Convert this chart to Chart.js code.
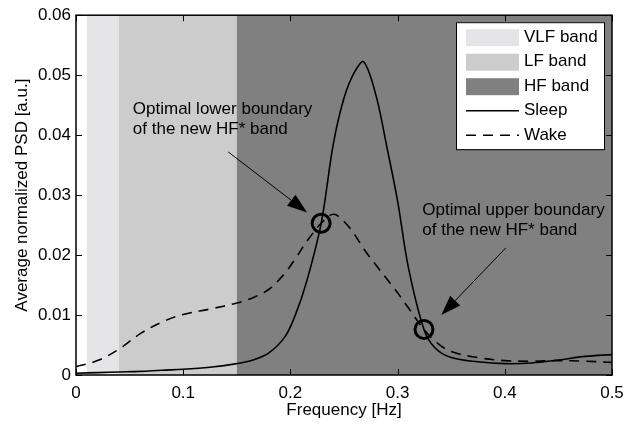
<!DOCTYPE html>
<html>
<head>
<meta charset="utf-8">
<script src="https://cdn.jsdelivr.net/npm/chart.js@4.4.0/dist/chart.umd.min.js"></script>
<style>
  body { margin: 0; background: #fff; }
</style>
</head>
<body>
<canvas id="psdChart" width="637" height="427"></canvas>
<script>
// Datos
const freqs = [0, 0.02, 0.04, 0.06, 0.08, 0.1, 0.125, 0.15, 0.165, 0.18, 0.195, 0.205, 0.215, 0.2287,
  0.24, 0.25, 0.26, 0.2685, 0.28, 0.29, 0.3, 0.31, 0.3246, 0.335, 0.35, 0.375, 0.4, 0.425, 0.45, 0.475, 0.5];
const sleepPsd = [0.0003, 0.0004, 0.0005, 0.0006, 0.0008, 0.00095, 0.0013, 0.0019, 0.0025, 0.0037, 0.0064, 0.0102, 0.0155, 0.0253,
  0.0385, 0.0462, 0.0506, 0.0522, 0.0465, 0.038, 0.029, 0.018, 0.0076, 0.0045, 0.0029, 0.0022, 0.0019, 0.0020, 0.0025, 0.0031, 0.0034];
const wakePsd = [0.0014, 0.0024, 0.0043, 0.0069, 0.0088, 0.0101, 0.011, 0.012, 0.0129, 0.0143, 0.017, 0.0195, 0.0222, 0.0253,
  0.0268, 0.0256, 0.0234, 0.021, 0.0183, 0.016, 0.0137, 0.0112, 0.0076, 0.0056, 0.0039, 0.0029, 0.0024, 0.0023, 0.0024, 0.0023, 0.0021];

const bandNames = ['VLF band', 'LF band', 'HF band'];
const bandStart = [0.01, 0.04, 0.15];
const bandEnd = [0.04, 0.15, 0.5];

const boundaryFreqs = [0.2287, 0.3246];
const boundaryPsd = [0.0253, 0.0076];

const xTickLabels = ['0', '0.1', '0.2', '0.3', '0.4', '0.5'];
const yTickLabels = ['0', '0.01', '0.02', '0.03', '0.04', '0.05', '0.06'];

const FONT = "'Liberation Sans', Arial, sans-serif";
const bandColors = ['#e5e5e7', '#cccccc', '#808080'];

// Anotaciones (en coordenadas de datos)
const notes = [
  { lines: ['Optimal lower boundary', 'of the new HF* band'], text: [0.053, 0.0435], from: [0.142, 0.0372], to: [0.2156, 0.0271] },
  { lines: ['Optimal upper boundary', 'of the new HF* band'], text: [0.323, 0.0266], from: [0.401, 0.0212], to: [0.3408, 0.0100] }
];

const bandsPlugin = {
  id: 'bands',
  beforeDatasetsDraw(chart) {
    const { ctx, chartArea, scales: { x } } = chart;
    ctx.save();
    bandNames.forEach((name, i) => {
      const x0 = x.getPixelForValue(bandStart[i]);
      const x1 = x.getPixelForValue(bandEnd[i]);
      ctx.fillStyle = bandColors[i];
      ctx.fillRect(x0, chartArea.top, x1 - x0, chartArea.bottom - chartArea.top);
    });
    ctx.restore();
  }
};

const notesPlugin = {
  id: 'notes',
  afterDatasetsDraw(chart) {
    const { ctx, scales: { x, y } } = chart;
    ctx.save();
    ctx.fillStyle = '#000';
    ctx.strokeStyle = '#000';
    ctx.font = '17px ' + FONT;
    ctx.textBaseline = 'alphabetic';
    notes.forEach(n => {
      const tx = x.getPixelForValue(n.text[0]);
      const ty = y.getPixelForValue(n.text[1]);
      n.lines.forEach((l, k) => ctx.fillText(l, tx, ty + k * 20));

      const fx = x.getPixelForValue(n.from[0]), fy = y.getPixelForValue(n.from[1]);
      const ex = x.getPixelForValue(n.to[0]), ey = y.getPixelForValue(n.to[1]);
      const ang = Math.atan2(ey - fy, ex - fx);
      const len = 20, half = 7;
      const bx = ex - len * Math.cos(ang), by = ey - len * Math.sin(ang);
      ctx.lineWidth = 1;
      ctx.beginPath();
      ctx.moveTo(fx, fy);
      ctx.lineTo(bx, by);
      ctx.stroke();
      ctx.beginPath();
      ctx.moveTo(ex, ey);
      ctx.lineTo(bx + half * Math.sin(ang), by - half * Math.cos(ang));
      ctx.lineTo(bx - half * Math.sin(ang), by + half * Math.cos(ang));
      ctx.closePath();
      ctx.fill();
    });
    ctx.restore();
  }
};

const framePlugin = {
  id: 'frame',
  afterDraw(chart) {
    const { ctx, chartArea: a, scales: { x, y } } = chart;
    ctx.save();
    ctx.strokeStyle = '#000';
    ctx.lineWidth = 1;
    x.ticks.forEach(t => {
      const px = Math.round(x.getPixelForValue(t.value)) + 0.5;
      ctx.beginPath();
      ctx.moveTo(px, a.bottom); ctx.lineTo(px, a.bottom - 6);
      ctx.moveTo(px, a.top); ctx.lineTo(px, a.top + 6);
      ctx.stroke();
    });
    y.ticks.forEach(t => {
      const py = Math.round(y.getPixelForValue(t.value)) + 0.5;
      ctx.beginPath();
      ctx.moveTo(a.left, py); ctx.lineTo(a.left + 6, py);
      ctx.moveTo(a.right, py); ctx.lineTo(a.right - 6, py);
      ctx.stroke();
    });
    ctx.lineWidth = 1.5;
    ctx.strokeRect(a.left, a.top, a.right - a.left, a.bottom - a.top);

    // leyenda
    const lx = a.right - 156, ly = a.top + 7, lw = 148, lh = 127;
    ctx.fillStyle = '#fff';
    ctx.fillRect(lx, ly, lw, lh);
    ctx.lineWidth = 1;
    ctx.strokeRect(lx + 0.5, ly + 0.5, lw, lh);
    ctx.font = '17px ' + FONT;
    ctx.textBaseline = 'middle';
    const rows = bandNames.concat(['Sleep', 'Wake']);
    rows.forEach((label, i) => {
      const cy = ly + 15 + i * 24.5;
      const sx = lx + 10, sw = 53;
      if (i < 3) {
        ctx.fillStyle = bandColors[i];
        ctx.fillRect(sx, cy - 8, sw, 17);
      } else {
        ctx.strokeStyle = '#000';
        ctx.lineWidth = 1.6;
        ctx.setLineDash(i === 4 ? [10, 7] : []);
        ctx.beginPath();
        ctx.moveTo(sx, cy); ctx.lineTo(sx + sw, cy);
        ctx.stroke();
        ctx.setLineDash([]);
      }
      ctx.fillStyle = '#000';
      ctx.fillText(label, sx + sw + 5, cy);
    });
    ctx.restore();
  }
};

const toXY = (vals) => freqs.map((f, i) => ({ x: f, y: vals[i] }));

new Chart(document.getElementById('psdChart'), {
  type: 'line',
  data: {
    datasets: [
      {
        label: 'Sleep',
        data: toXY(sleepPsd),
        borderColor: '#000',
        borderWidth: 1.6,
        pointRadius: 0,
        tension: 0.35,
        fill: false
      },
      {
        label: 'Wake',
        data: toXY(wakePsd),
        borderColor: '#000',
        borderWidth: 1.6,
        borderDash: [10, 7],
        pointRadius: 0,
        tension: 0.35,
        fill: false
      },
      {
        label: 'Boundaries',
        type: 'scatter',
        data: boundaryFreqs.map((f, i) => ({ x: f, y: boundaryPsd[i] })),
        pointStyle: 'circle',
        pointRadius: 9,
        pointBorderWidth: 3,
        pointBorderColor: '#000',
        pointBackgroundColor: 'rgba(0,0,0,0)'
      }
    ]
  },
  options: {
    responsive: false,
    animation: false,
    layout: { padding: { top: 14, right: 25, left: 0, bottom: 0 } },
    plugins: {
      legend: { display: false },
      tooltip: { enabled: false }
    },
    scales: {
      x: {
        type: 'linear',
        min: 0,
        max: 0.5,
        grid: { display: false, drawTicks: false },
        border: { display: false },
        afterFit(scale) { scale.height = 52; },
        ticks: {
          stepSize: 0.1,
          padding: 8,
          color: '#000',
          font: { family: FONT, size: 17 },
          maxRotation: 0,
          callback: (v, i) => xTickLabels[i]
        },
        title: {
          display: true,
          text: 'Frequency [Hz]',
          color: '#000',
          font: { family: FONT, size: 17 },
          padding: { top: 0, bottom: 6 }
        }
      },
      y: {
        min: 0,
        max: 0.06,
        grid: { display: false, drawTicks: false },
        border: { display: false },
        afterFit(scale) { scale.width = 76; },
        ticks: {
          stepSize: 0.01,
          padding: 5,
          color: '#000',
          font: { family: FONT, size: 17 },
          callback: (v, i) => yTickLabels[i]
        },
        title: {
          display: true,
          text: 'Average normalized PSD [a.u.]',
          color: '#000',
          font: { family: FONT, size: 17 },
          padding: { top: 12, bottom: 0 }
        }
      }
    }
  },
  plugins: [bandsPlugin, notesPlugin, framePlugin]
});
</script>
</body>
</html>
